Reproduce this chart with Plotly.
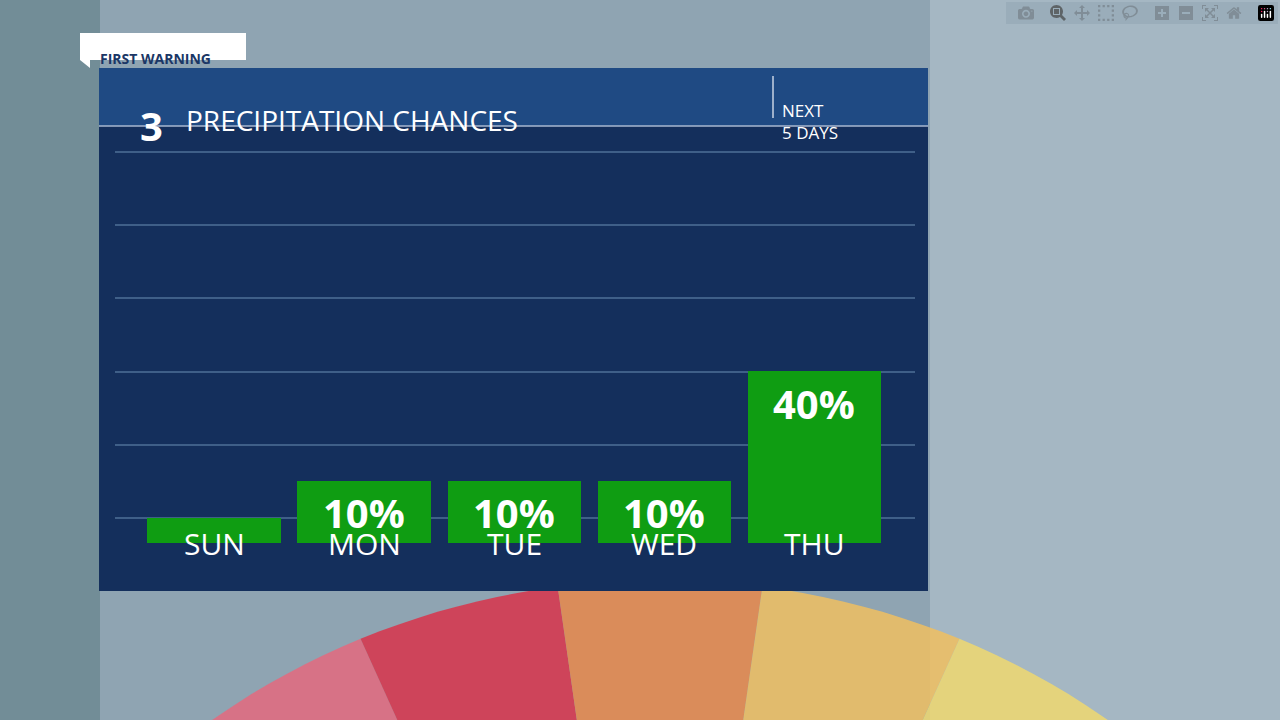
import math
import plotly.graph_objects as go

days = ["SUN", "MON", "TUE", "WED", "THU"]
chances = [0, 10, 10, 10, 40]
labels = ["", "10%", "10%", "10%", "40%"]

W, H = 1280, 720
def px(x): return x / W
def py(y): return 1 - y / H

BASE = -6.8
fig = go.Figure()
fig.add_trace(go.Bar(
    x=list(range(len(days))), y=[c - BASE for c in chances], base=BASE,
    width=0.887, marker=dict(color="#0f9d12", line=dict(width=0)),
    hoverinfo="skip"))

shapes = []
shapes.append(dict(type="rect", xref="paper", yref="paper", x0=0, x1=1, y0=0, y1=1,
                   fillcolor="#8fa4b2", line_width=0, layer="below"))
shapes.append(dict(type="rect", xref="paper", yref="paper", x0=0, x1=px(100), y0=0, y1=1,
                   fillcolor="#5f7f86", line_width=0, layer="below", opacity=0.6))
shapes.append(dict(type="rect", xref="paper", yref="paper", x0=px(930), x1=1, y0=0, y1=1,
                   fillcolor="#b4c4cf", line_width=0, layer="below", opacity=0.6))
cx, cy, r = 660, 1300, 720
cols = ["#d9a0b8", "#e8a0b0", "#e46a7e", "#d9344a", "#e8884a", "#f0c060", "#efd870", "#e3e49a", "#b8d6c8"]
a0, a1 = math.radians(200), math.radians(340)
n = len(cols)
for i, c in enumerate(cols):
    t0 = a0 + (a1 - a0) * i / n
    t1 = a0 + (a1 - a0) * (i + 1) / n
    pts = [(cx, cy)]
    for k in range(11):
        t = t0 + (t1 - t0) * k / 10
        pts.append((cx + r * 1.05 * math.cos(t), cy + r * math.sin(t)))
    path = "M " + " L ".join(f"{px(x):.4f},{py(y):.4f}" for x, y in pts) + " Z"
    shapes.append(dict(type="path", xref="paper", yref="paper", path=path,
                       fillcolor=c, line_width=0, layer="below", opacity=0.85))
shapes.append(dict(type="rect", xref="paper", yref="paper", x0=px(99), x1=px(928), y0=py(591), y1=py(126),
                   fillcolor="#142f5c", line_width=0, layer="below"))
shapes.append(dict(type="rect", xref="paper", yref="paper", x0=px(99), x1=px(928), y0=py(126), y1=py(68),
                   fillcolor="#1f4a83", line_width=0, layer="below"))
shapes.append(dict(type="line", xref="paper", yref="paper", x0=px(99), x1=px(928), y0=py(126), y1=py(126),
                   line=dict(color="#a9b9d0", width=1.5)))
shapes.append(dict(type="line", xref="paper", yref="paper", x0=px(773), x1=px(773), y0=py(76), y1=py(118),
                   line=dict(color="#c8d3e3", width=1.5)))
shapes.append(dict(type="path", xref="paper", yref="paper",
                   path=f"M {px(80)},{py(33)} L {px(246)},{py(33)} L {px(246)},{py(60)} L {px(90)},{py(60)} L {px(90)},{py(68)} L {px(80)},{py(60)} Z",
                   fillcolor="white", line_width=0))

ann = []
ann.append(dict(xref="paper", yref="paper", x=px(98), y=py(47), text="<b>FIRST WARNING</b>", showarrow=False,
                xanchor="left", font=dict(family="Open Sans", size=14, color="#1b3766")))
ann.append(dict(xref="paper", yref="paper", x=px(138), y=py(96), text="<b>3</b>", showarrow=False,
                font=dict(family="Open Sans", size=40, color="white")))
ann.append(dict(xref="paper", yref="paper", x=px(184), y=py(99), text="PRECIPITATION CHANCES", showarrow=False,
                xanchor="left", font=dict(family="Open Sans", size=28, color="white")))
ann.append(dict(xref="paper", yref="paper", x=px(780), y=py(97), text="NEXT<br>5 DAYS", showarrow=False,
                xanchor="left", align="left", font=dict(family="Open Sans", size=17, color="white")))
for i, d in enumerate(days):
    ann.append(dict(x=i, y=py(566), xref="x", yref="paper", text=d, showarrow=False,
                    font=dict(family="Open Sans", size=30, color="white")))
    if labels[i]:
        ann.append(dict(x=i, y=chances[i], xref="x", yref="y", text=f"<b>{labels[i]}</b>", showarrow=False,
                        yanchor="top", yshift=-2, font=dict(family="Open Sans", size=40, color="white")))

fig.update_layout(
    width=W, height=H, margin=dict(l=0, r=0, t=0, b=0),
    paper_bgcolor="#8fa4b2", plot_bgcolor="rgba(0,0,0,0)", showlegend=False,
    shapes=shapes, annotations=ann, bargap=0,
    xaxis=dict(domain=[px(115), px(915)], range=[-0.66, 4.673], visible=False, fixedrange=True),
    yaxis=dict(domain=[py(554.6), py(148.3)], range=[-10, 101], tickvals=[0, 20, 40, 60, 80, 100],
               showticklabels=False, showgrid=True, gridcolor="#3f5f88", gridwidth=2, zeroline=False),
)
fig.write_html("out.html", post_script="document.body.style.margin='0';document.body.style.overflow='hidden';")
